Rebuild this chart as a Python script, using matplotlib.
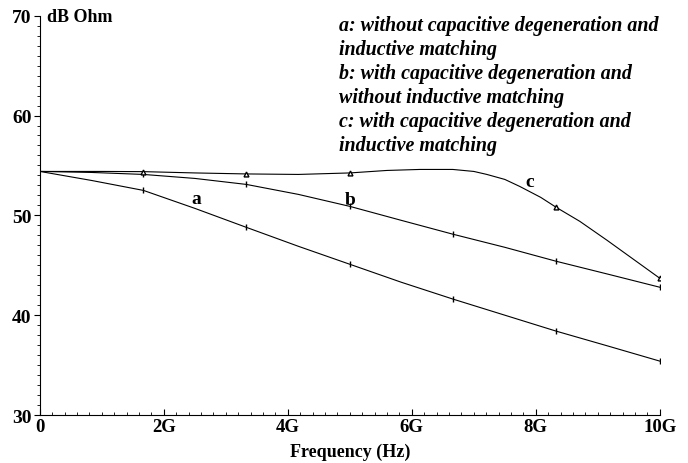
import numpy as np
import matplotlib.pyplot as plt
from matplotlib.ticker import MultipleLocator, FuncFormatter

# Frequency points (GHz) and curves (dB Ohm)
freq_a = [0, 0.83, 1.67, 2.5, 3.33, 4.17, 5, 5.83, 6.67, 7.5, 8.33, 9.17, 10]
val_a = [54.4, 53.5, 52.5, 50.7, 48.8, 46.9, 45.1, 43.3, 41.6, 40.0, 38.4, 36.9, 35.4]

freq_b = [0, 0.83, 1.67, 2.5, 3.33, 4.17, 5, 5.83, 6.67, 7.5, 8.33, 9.17, 10]
val_b = [54.4, 54.3, 54.1, 53.7, 53.1, 52.1, 50.9, 49.5, 48.1, 46.8, 45.4, 44.1, 42.8]

freq_c = [0, 1, 1.67, 2.5, 3.33, 4.17, 5, 5.6, 6.13, 6.66, 7.0, 7.21, 7.5, 7.74, 8.08, 8.33, 8.71, 9.15, 10]
val_c = [54.4, 54.4, 54.38, 54.25, 54.15, 54.1, 54.25, 54.5, 54.6, 54.6, 54.4, 54.1, 53.6, 52.9, 51.8, 50.8, 49.4, 47.5, 43.7]

marks_a = [2, 4, 6, 8, 10, 12]
marks_b = [2, 4, 6, 8, 10, 12]
marks_c = [2, 4, 6, 15, 18]

legend_text = ('a: without capacitive degeneration and\n'
               'inductive matching\n'
               'b: with capacitive degeneration and\n'
               'without inductive matching\n'
               'c: with capacitive degeneration and\n'
               'inductive matching')

plt.rcParams['font.family'] = ['Liberation Serif', 'DejaVu Serif']
plt.rcParams['font.weight'] = 'bold'

fig = plt.figure(figsize=[6.88, 4.64], dpi=100)
ax = fig.add_axes([0.058, 0.1034, 0.901, 0.8606])

ax.plot(freq_a, val_a, '-k', linewidth=0.8, marker='|', markersize=4, markevery=marks_a)
ax.plot(freq_b, val_b, '-k', linewidth=0.8, marker='|', markersize=4, markevery=marks_b)
ax.plot(freq_c, val_c, '-k', linewidth=0.8, marker='^', markersize=3.5,
        markerfacecolor='white', markevery=marks_c)

# Curve labels
ax.text(2.53, 51.65, 'a', fontsize=14, fontweight='bold', ha='center', va='center')
ax.text(5.0, 51.6, 'b', fontsize=14, fontweight='bold', ha='center', va='center')
ax.text(7.9, 53.4, 'c', fontsize=14, fontweight='bold', ha='center', va='center')

ax.text(4.82, 70.1, legend_text, fontsize=14.4, fontweight='bold', fontstyle='italic',
        ha='left', va='top', linespacing=1.27)
ax.text(0.12, 69.9, 'dB Ohm', fontsize=13, fontweight='bold', ha='left', va='center')

ax.set_xlim(0, 10)
ax.set_ylim(30, 70)
ax.spines['top'].set_visible(False)
ax.spines['right'].set_visible(False)

ax.xaxis.set_major_locator(MultipleLocator(2))
ax.xaxis.set_minor_locator(MultipleLocator(0.2))
ax.yaxis.set_major_locator(MultipleLocator(10))
ax.yaxis.set_minor_locator(MultipleLocator(1))
ax.xaxis.set_major_formatter(FuncFormatter(lambda v, p: '0' if v == 0 else '%dG' % v))

ax.tick_params(axis='x', which='major', direction='in', length=4, labelsize=13.5, pad=2)
ax.tick_params(axis='x', which='minor', direction='in', length=2)
ax.tick_params(axis='y', which='major', direction='out', length=4, labelsize=14, pad=2)
ax.tick_params(axis='y', which='minor', direction='out', length=2)
for lbl in ax.get_xticklabels() + ax.get_yticklabels():
    lbl.set_fontweight('bold')

ax.set_xlabel('Frequency (Hz)', fontsize=13, fontweight='bold', labelpad=6)

plt.savefig('out.png', dpi=100)
